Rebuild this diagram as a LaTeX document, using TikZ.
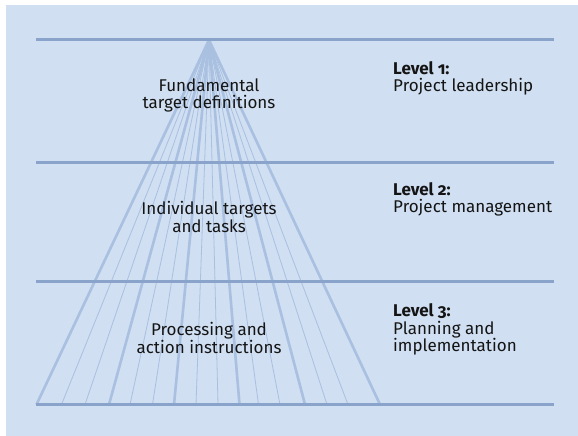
\documentclass[tikz,border=0pt]{standalone}
\usepackage{fontspec}
\setmainfont{Fira Sans}[Numbers=OldStyle]
\definecolor{bg}{HTML}{D0DFF2}
\definecolor{hline}{HTML}{8AA3CB}
\definecolor{fan}{HTML}{A9C0E0}
\definecolor{txt}{HTML}{141414}
\tikzset{
  levelline/.style={draw=hline, line width=3pt},
  fanthin/.style={draw=fan, line width=0.8pt},
  fanthick/.style={draw=fan, line width=2.6pt},
  centertext/.style={align=center, text=txt, inner sep=0pt, font=\fontsize{17}{17.5}\selectfont},
  leveltext/.style={align=left, text=txt, inner sep=0pt, anchor=west, font=\fontsize{17}{17.5}\selectfont},
}
\begin{document}
\begin{tikzpicture}[x=1pt,y=-1pt]
\useasboundingbox (0,0) rectangle (578,436);
\fill[bg] (6,5) rectangle (578,436);
\coordinate (apex) at (209,40);
\foreach \bx [count=\i from 0] in {36.5,61.5,85,109,130,152.5,174,196,218,239.5,258.5,280,305,327,348,380} {
  \coordinate (b\i) at (\bx,404.5);
  \pgfmathtruncatemacro{\r}{mod(\i,3)}
  \ifnum\r=0
    \draw[fanthick] (apex) -- (b\i);
  \else
    \draw[fanthin] (apex) -- (b\i);
  \fi
}
\foreach \y [count=\j] in {40,162,281,404.5} {
  \coordinate (l\j) at (36,\y);
  \coordinate (r\j) at (554,\y);
  \draw[levelline] (l\j) -- (r\j);
}
\node[centertext] (t1) at (209,95.5) {Fundamental\\target definitions};
\node[centertext] (t2) at (209,217) {Individual targets\\and tasks};
\node[centertext] (t3) at (209,338) {Processing and\\action instructions};
\node[leveltext] (lv1) at (393,78.5) {\textbf{Level 1:}\\Project leadership};
\node[leveltext] (lv2) at (393,199.5) {\textbf{Level 2:}\\Project management};
\node[leveltext] (lv3) at (393,329.5) {\textbf{Level 3:}\\Planning and\\implementation};
\end{tikzpicture}
\end{document}
